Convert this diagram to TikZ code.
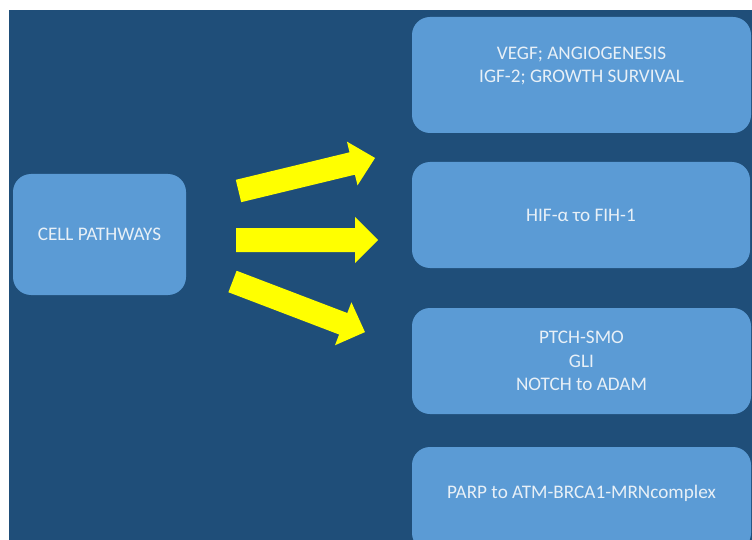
\documentclass[tikz,border=0pt]{standalone}
\usepackage{fontspec}
\setmainfont{Carlito}
\definecolor{bg}{RGB}{31,78,121}
\definecolor{boxc}{RGB}{91,155,213}
\definecolor{txt}{RGB}{232,240,247}
\definecolor{arr}{RGB}{255,255,0}
\tikzset{
  box/.style={fill=boxc, draw=none, rounded corners=18pt, inner sep=0pt},
  lbl/.style={text=txt, align=center, font=\fontsize{19.2}{23.5}\selectfont, inner sep=0pt},
  blockarrow/.style={fill=arr, draw=none}
}
\begin{document}
\begin{tikzpicture}[x=1pt,y=-1pt]
\useasboundingbox (0,0) rectangle (752,540);
\fill[white] (0,0) rectangle (752,540);
\clip (0,0) rectangle (752,540);
\fill[bg] (9,10) rectangle (752,540);
% boxes
\node[box, minimum width=173pt, minimum height=121pt] (cell) at (99.5,234.5) {};
\node[box, minimum width=339pt, minimum height=116pt] (vegf) at (581.5,75) {};
\node[box, minimum width=338pt, minimum height=106pt] (hif) at (581,215) {};
\node[box, minimum width=339pt, minimum height=106pt] (ptch) at (581.5,361) {};
\node[box, minimum width=339pt, minimum height=104pt] (parp) at (581.5,499) {};
% labels
\node[lbl] (celltxt) at (cell.center) {CELL PATHWAYS};
\node[lbl] (vegftxt) at ([yshift=9pt]vegf.center) {VEGF; ANGIOGENESIS\\IGF-2; GROWTH SURVIVAL};
\node[lbl] (hiftxt) at (hif.center) {HIF-α το FIH-1};
\node[lbl] (ptchtxt) at (ptch.center) {PTCH-SMO\\GLI\\NOTCH to ADAM};
\node[lbl] (parptxt) at ([yshift=6pt]parp.center) {PARP to ATM-BRCA1-MRNcomplex};
% block arrows
\coordinate (t1) at (238.5,191);
\coordinate (t2) at (236,240);
\coordinate (t3) at (232.5,281.5);
\begin{scope}[shift={(t1)}, rotate=13.6]
  \fill[blockarrow] (0,11.5) -- (117,11.5) -- (117,22.5) -- (140.5,0) -- (117,-22.5) -- (117,-11.5) -- (0,-11.5) -- cycle;
\end{scope}
\begin{scope}[shift={(t2)}]
  \fill[blockarrow] (0,12) -- (119,12) -- (119,23) -- (142,0) -- (119,-23) -- (119,-12) -- (0,-12) -- cycle;
\end{scope}
\begin{scope}[shift={(t3)}, rotate=-20.9]
  \fill[blockarrow] (0,11.5) -- (118.5,11.5) -- (118.5,23) -- (141.8,0) -- (118.5,-23) -- (118.5,-11.5) -- (0,-11.5) -- cycle;
\end{scope}
\end{tikzpicture}
\end{document}
